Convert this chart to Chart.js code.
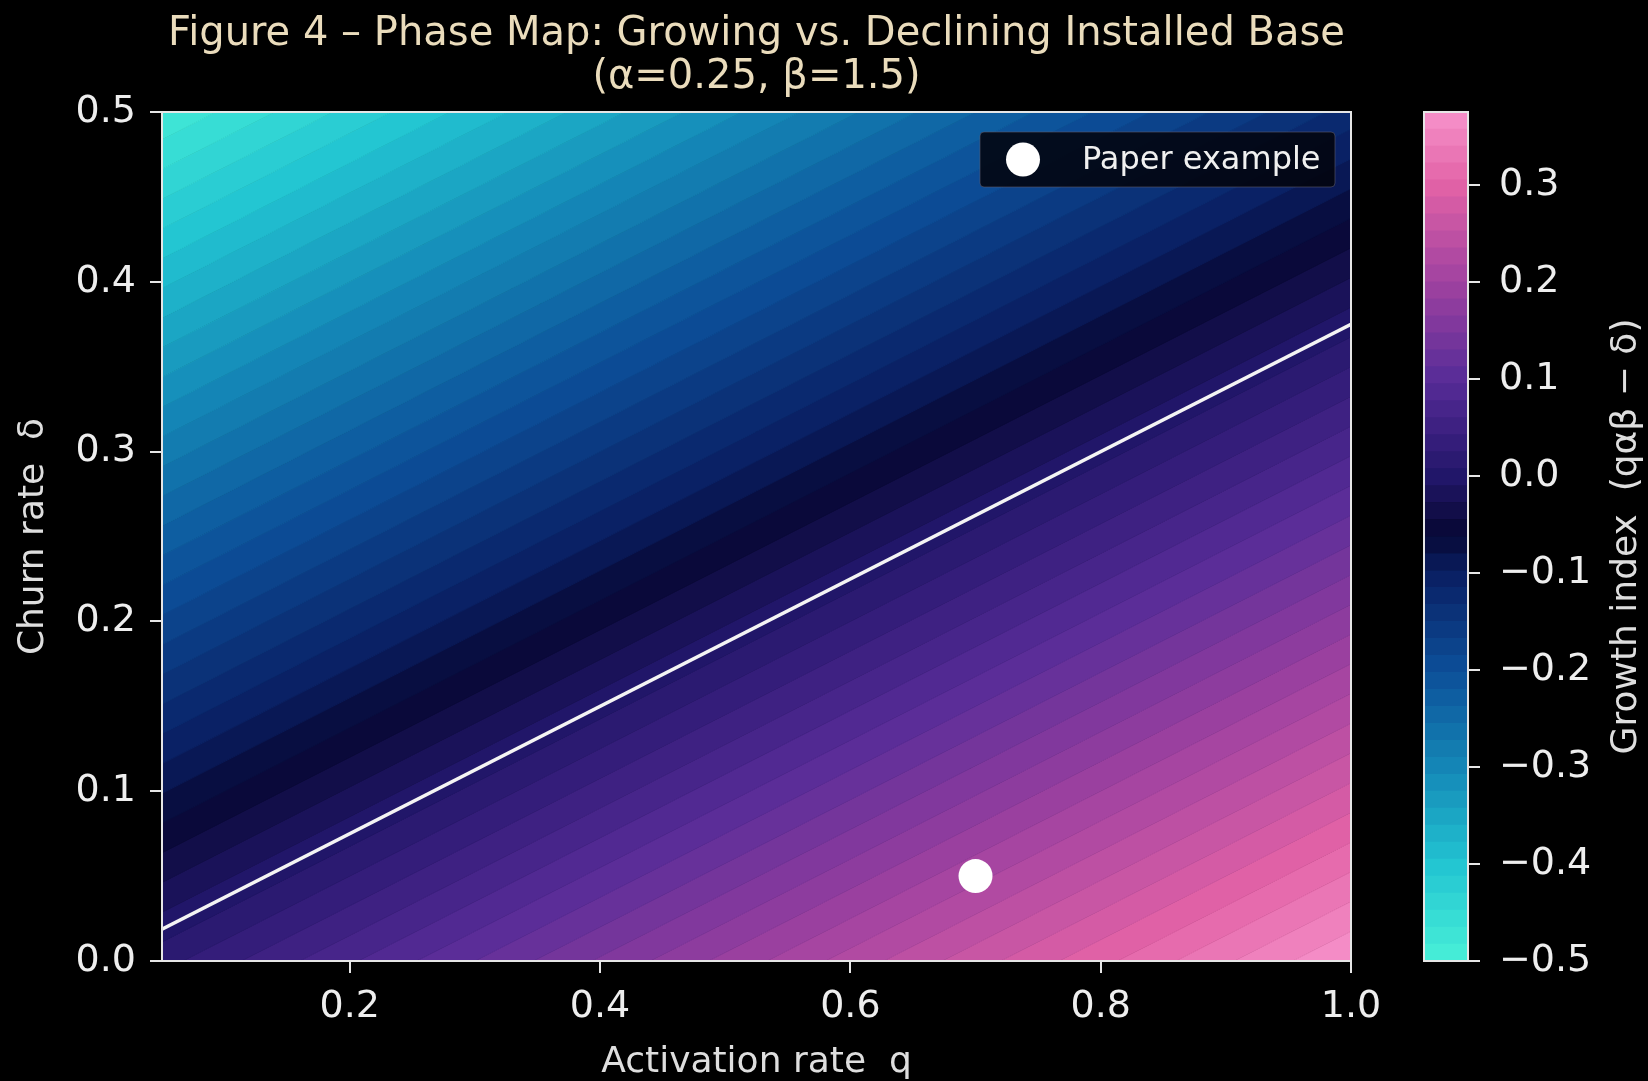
<!DOCTYPE html>
<html>
<head>
<meta charset="utf-8">
<title>Figure 4 – Phase Map</title>
<script src="https://cdn.jsdelivr.net/npm/chart.js@4.4.1/dist/chart.umd.min.js"></script>
<style>
  html, body { margin: 0; padding: 0; background: #000; }
  #wrap { position: relative; width: 1648px; height: 1081px; }
  #main-box { position: absolute; left: 0; top: 0; width: 1648px; height: 1081px; }
  #cbar-box { position: absolute; left: 1380px; top: 0; width: 268px; height: 1081px; }
</style>
</head>
<body>
<div id="wrap">
  <div id="main-box"><canvas id="phase-map"></canvas></div>
  <div id="cbar-box"><canvas id="colorbar"></canvas></div>
</div>
<script>
// model parameters (from the title)
const alpha = 0.25;
const beta = 1.5;

// axes
const qRange = [0.05, 1.0];
const deltaRange = [0.0, 0.5];
const qTicks = [0.2, 0.4, 0.6, 0.8, 1.0];
const deltaTicks = [0.0, 0.1, 0.2, 0.3, 0.4, 0.5];

// growth index colorbar: range, number of filled contour bands, ticks
const growthRange = [-0.5, 0.375];
const levelCount = 50;
const cbarTicks = [-0.5, -0.4, -0.3, -0.2, -0.1, 0.0, 0.1, 0.2, 0.3];

// break-even line (growth index = 0)
const boundaryQ = [0.05, 1.0];
const boundaryDelta = [0.01875, 0.375];

// paper example point
const exampleQ = [0.7];
const exampleDelta = [0.05];

// colour map stops: growth value -> rgb
const cmapStops = [
  [-0.5, [72, 240, 216]],
  [-0.4, [34, 196, 210]],
  [-0.3, [20, 134, 182]],
  [-0.2, [12, 78, 152]],
  [-0.1, [10, 30, 98]],
  [-0.06, [7, 8, 52]],
  [0.0, [34, 22, 106]],
  [0.1, [88, 44, 152]],
  [0.2, [160, 66, 160]],
  [0.3, [226, 98, 166]],
  [0.375, [246, 146, 202]]
];

function cmap(v) {
  if (v <= cmapStops[0][0]) return rgb(cmapStops[0][1]);
  for (let i = 1; i < cmapStops.length; i++) {
    const [v1, c1] = cmapStops[i];
    const [v0, c0] = cmapStops[i - 1];
    if (v <= v1) {
      const t = (v - v0) / (v1 - v0);
      return rgb(c0.map((c, k) => c + (c1[k] - c) * t));
    }
  }
  return rgb(cmapStops[cmapStops.length - 1][1]);
}
function rgb(c) {
  return `rgb(${Math.round(c[0])},${Math.round(c[1])},${Math.round(c[2])})`;
}

// contour levels of q*alpha*beta - delta
const levels = [];
for (let i = 0; i <= levelCount; i++) {
  levels.push(growthRange[0] + (growthRange[1] - growthRange[0]) * i / levelCount);
}

const FONT = 'DejaVu Sans';
const tickColor = '#eeeeee';
const labelColor = '#dedede';
const spineColor = '#e6e6e6';

Chart.defaults.font.family = FONT;

// each level is a straight contour line; bands are filled between neighbours
const bandSets = levels.map((lv, i) => {
  const col = cmap(i > 0 ? (levels[i - 1] + lv) / 2 : lv);
  return {
    type: 'line',
    label: 'level ' + lv.toFixed(4),
    data: qRange.map(q => ({ x: q, y: q * alpha * beta - lv })),
    borderColor: col,
    borderWidth: 1,
    backgroundColor: col,
    fill: i > 0 ? '-1' : false,
    pointRadius: 0,
    order: 3
  };
});

const boundarySet = {
  type: 'line',
  label: 'Break-even',
  data: boundaryQ.map((q, i) => ({ x: q, y: boundaryDelta[i] })),
  borderColor: '#f4f4f4',
  borderWidth: 3.5,
  pointRadius: 0,
  fill: false,
  order: 1
};

const exampleSet = {
  type: 'scatter',
  label: 'Paper example',
  data: exampleQ.map((q, i) => ({ x: q, y: exampleDelta[i] })),
  backgroundColor: '#ffffff',
  borderWidth: 0,
  pointRadius: 17,
  order: 0
};

// frame around the axes and the legend box (drawn on top of the bands)
const framePlugin = {
  id: 'frame',
  afterDatasetsDraw(chart) {
    const { ctx, chartArea: a } = chart;
    ctx.save();
    ctx.strokeStyle = spineColor;
    ctx.lineWidth = 2;
    ctx.strokeRect(a.left, a.top, a.right - a.left, a.bottom - a.top);

    const w = 355, h = 55;
    const left = a.right - 16 - w, top = a.top + 20;
    ctx.fillStyle = 'rgba(2, 3, 12, 0.88)';
    ctx.strokeStyle = 'rgba(90, 90, 110, 0.6)';
    ctx.lineWidth = 1;
    ctx.beginPath();
    ctx.roundRect(left, top, w, h, 4);
    ctx.fill();
    ctx.stroke();

    ctx.fillStyle = exampleSet.backgroundColor;
    ctx.beginPath();
    ctx.arc(left + 43, top + h / 2, 17, 0, Math.PI * 2);
    ctx.fill();

    ctx.fillStyle = '#f0f0f0';
    ctx.font = `32px "${FONT}"`;
    ctx.textAlign = 'left';
    ctx.textBaseline = 'middle';
    ctx.fillText(exampleSet.label, left + 102, top + h / 2 + 1);
    ctx.restore();
  }
};

const fmt = v => (v < 0 ? '\u2212' : '') + Math.abs(v).toFixed(1);

const axisGrid = {
  display: true,
  drawOnChartArea: false,
  drawTicks: true,
  tickLength: 12,
  color: spineColor,
  lineWidth: 2
};

new Chart(document.getElementById('phase-map'), {
  type: 'line',
  data: { datasets: [exampleSet, boundarySet, ...bandSets] },
  options: {
    responsive: true,
    maintainAspectRatio: false,
    animation: false,
    events: [],
    layout: { padding: { left: 0, right: 297, top: 0, bottom: 0 } },
    plugins: {
      legend: { display: false },
      tooltip: { enabled: false },
      title: {
        display: true,
        fullSize: false,
        text: ['Figure 4 \u2013 Phase Map: Growing vs. Declining Installed Base', '(\u03b1=0.25, \u03b2=1.5)'],
        color: '#eadcbc',
        font: { family: FONT, size: 40, weight: 'normal', lineHeight: 1.08 },
        padding: { top: 13, bottom: 12.6 }
      }
    },
    scales: {
      x: {
        type: 'linear',
        min: qRange[0],
        max: qRange[1],
        afterBuildTicks: s => { s.ticks = qTicks.map(v => ({ value: v })); },
        afterFit: s => { s.height = 120; },
        ticks: { color: tickColor, font: { size: 38 }, padding: 11, autoSkip: false, maxRotation: 0, callback: v => fmt(v) },
        grid: axisGrid,
        border: { display: false },
        title: { display: true, text: 'Activation rate  q', color: labelColor, font: { size: 36, lineHeight: 1.0 }, padding: { top: 0, bottom: 0 } }
      },
      y: {
        type: 'linear',
        min: deltaRange[0],
        max: deltaRange[1],
        afterBuildTicks: s => { s.ticks = deltaTicks.map(v => ({ value: v })); },
        afterFit: s => { s.width = 162; },
        ticks: { color: tickColor, font: { size: 38 }, padding: 14, autoSkip: false, callback: v => fmt(v) },
        grid: axisGrid,
        border: { display: false },
        title: { display: true, text: 'Churn rate  \u03b4', color: labelColor, font: { size: 36 }, padding: { top: 12, bottom: 0 } }
      }
    }
  },
  plugins: [framePlugin]
});

// colorbar: one floating bar per contour band
const cbarSets = levels.slice(1).map((lv, i) => ({
  label: 'band ' + i,
  data: [[levels[i], lv]],
  backgroundColor: cmap((levels[i] + lv) / 2),
  borderWidth: 0,
  grouped: false,
  barPercentage: 1,
  categoryPercentage: 1
}));

const cbarPlugin = {
  id: 'cbarFrame',
  afterDraw(chart) {
    const { ctx, chartArea: a } = chart;
    ctx.save();
    ctx.strokeStyle = spineColor;
    ctx.lineWidth = 2;
    ctx.strokeRect(a.left, a.top, a.right - a.left, a.bottom - a.top);
    ctx.translate(chart.width - 21, (a.top + a.bottom) / 2);
    ctx.rotate(-Math.PI / 2);
    ctx.fillStyle = labelColor;
    ctx.font = `36px "${FONT}"`;
    ctx.textAlign = 'center';
    ctx.textBaseline = 'middle';
    ctx.fillText('Growth index  (q\u03b1\u03b2 \u2212 \u03b4)', 0, 0);
    ctx.restore();
  }
};

new Chart(document.getElementById('colorbar'), {
  type: 'bar',
  data: { labels: ['growth'], datasets: cbarSets },
  options: {
    responsive: true,
    maintainAspectRatio: false,
    animation: false,
    events: [],
    layout: { padding: { left: 44, right: 0, top: 112, bottom: 120 } },
    plugins: { legend: { display: false }, tooltip: { enabled: false } },
    scales: {
      x: { display: false },
      y: {
        position: 'right',
        min: growthRange[0],
        max: growthRange[1],
        afterBuildTicks: s => { s.ticks = cbarTicks.map(v => ({ value: v })); },
        afterFit: s => { s.width = 180; },
        ticks: { color: tickColor, font: { size: 38 }, padding: 19, autoSkip: false, callback: v => fmt(v) },
        grid: axisGrid,
        border: { display: false }
      }
    }
  },
  plugins: [cbarPlugin]
});
</script>
</body>
</html>
